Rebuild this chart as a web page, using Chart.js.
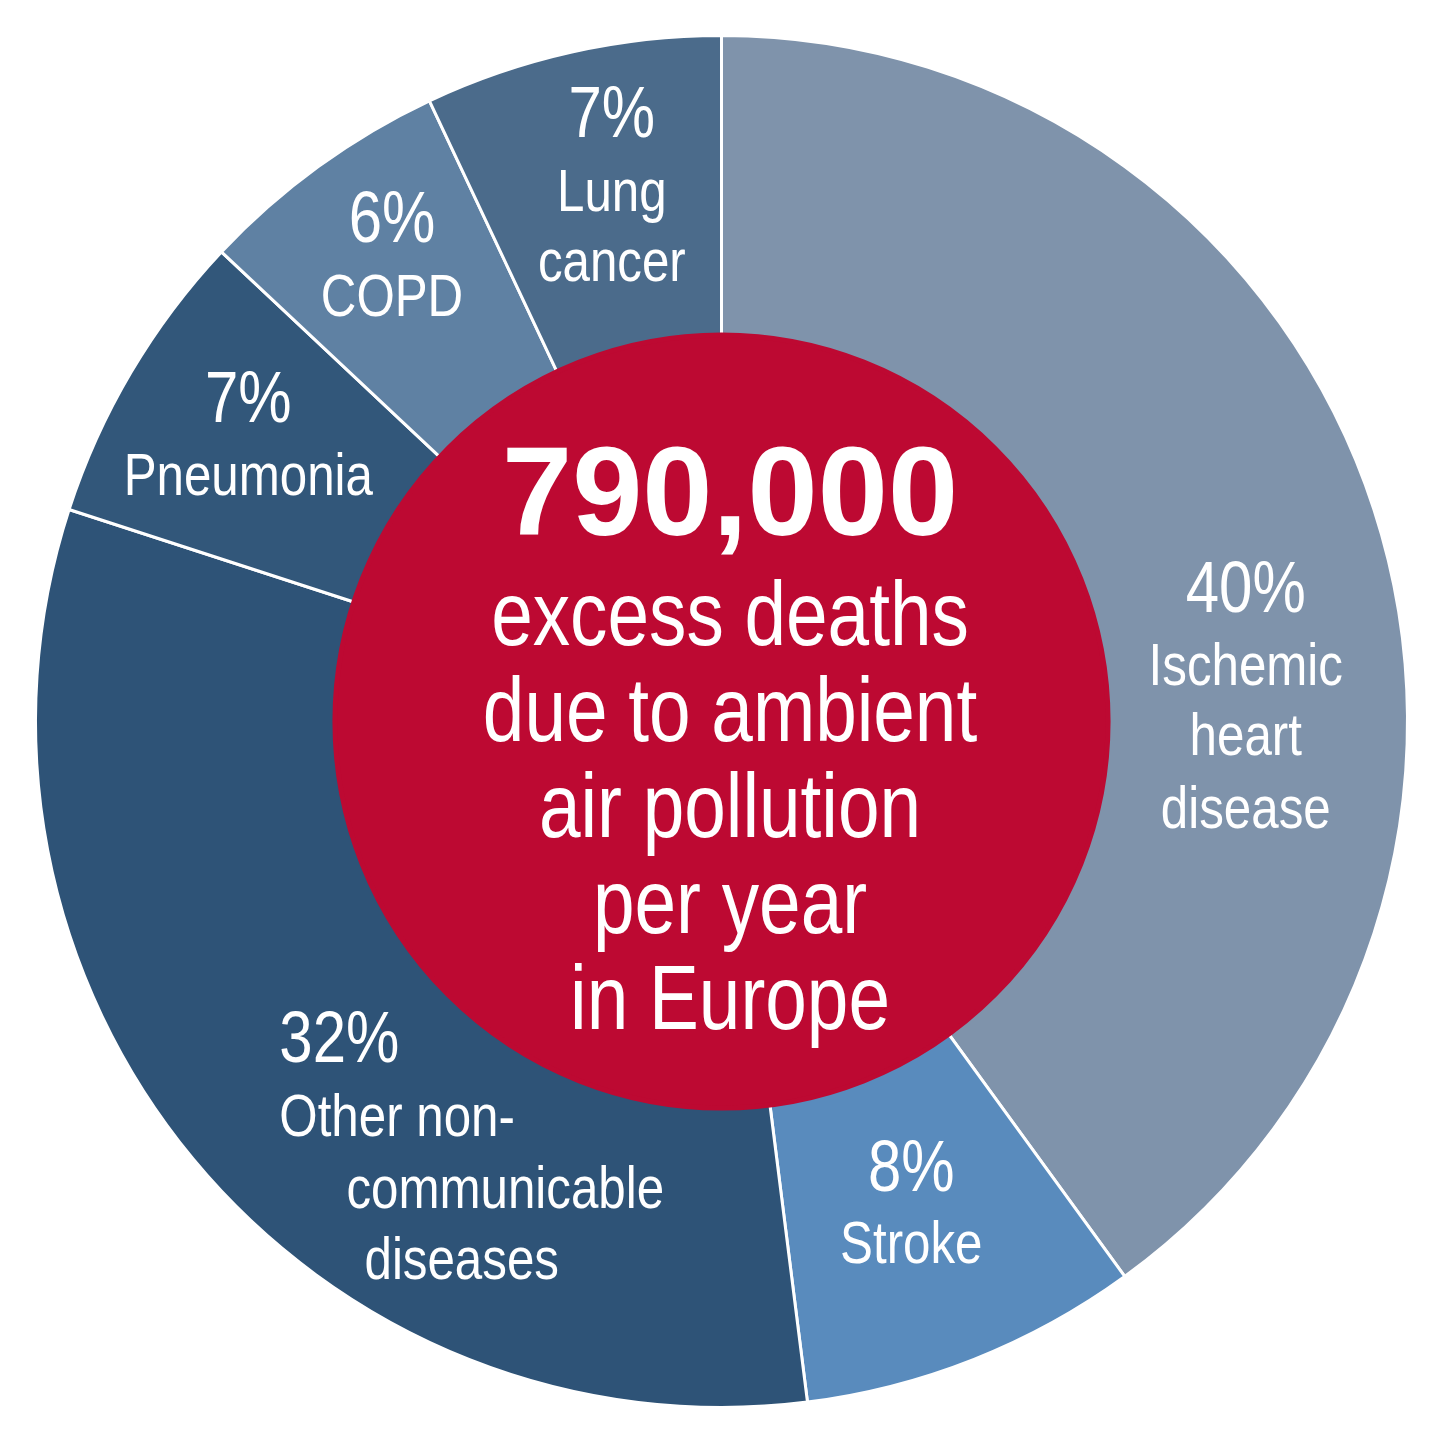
<!DOCTYPE html>
<html><head><meta charset="utf-8">
<script src="https://cdn.jsdelivr.net/npm/chart.js@4.4.1/dist/chart.umd.min.js"></script>
<style>html,body{margin:0;padding:0;background:#fff;overflow:hidden}#wrap{width:1440px;height:1449px;position:relative}</style>
</head><body><div id="wrap"><canvas id="c"></canvas></div>
<script>
// ---- data ----
const categories = ['Ischemic heart disease', 'Stroke', 'Other non-communicable diseases', 'Pneumonia', 'COPD', 'Lung cancer'];
const shares = [40, 8, 32, 7, 6, 7];
const labelLines = [['Ischemic', 'heart', 'disease'], ['Stroke'], ['Other non-', 'communicable', 'diseases'], ['Pneumonia'], ['COPD'], ['Lung', 'cancer']];
const centerTotal = '790,000';
const centerLines = ['excess deaths', 'due to ambient', 'air pollution', 'per year', 'in Europe'];

// ---- styles ----
const sliceColors = ['#7f93ab', '#598bbd', '#2e5377', '#32577a', '#5f81a3', '#4b6b8b'];
const centerColor = '#bd0932';
const REF_R = 685;          // reference outer radius used for the layout units below
const RING_WEIGHT = 299;    // outer ring width
const CORE_WEIGHT = 386;    // red core radius
// label layout, in px relative to chart centre at REF_R
const labelLayout = [
  {align: 'center', xs: [523.5], ys: [-109.5, -36.5, 33.5, 106.5]},
  {align: 'center', xs: [189.5], ys: [468.5, 540.5]},
  {align: 'left', xs: [-441.5, -441.5, -374.5, -356.5], ys: [340.5, 413.5, 485.5, 556.5]},
  {align: 'center', xs: [-472.5], ys: [-299.5, -226.5]},
  {align: 'center', xs: [-329], ys: [-478.5, -404.5]},
  {align: 'center', xs: [-109.5], ys: [-583.5, -509.5, -439.5]}
];
const centerLayout = {dx: 8.5, totalY: -186.5, firstY: -76.5, gap: 96};
const NARROW = 0.82;

function narrowText(ctx, text, x, y, size, align, bold, sx) {
  ctx.save();
  ctx.font = (bold ? 'bold ' : '') + size + 'px "Liberation Sans", Arial, sans-serif';
  ctx.textAlign = align;
  ctx.textBaseline = 'alphabetic';
  ctx.fillStyle = '#ffffff';
  ctx.translate(x, y);
  ctx.scale(sx, 1);
  ctx.fillText(text, 0, 0);
  ctx.restore();
}

const labelPlugin = {
  id: 'labels',
  afterDatasetsDraw(chart) {
    const ctx = chart.ctx;
    const arcs = chart.getDatasetMeta(0).data;
    if (!arcs.length) return;
    const cx = arcs[0].x, cy = arcs[0].y;
    const k = arcs[0].outerRadius / REF_R;
    arcs.forEach((arc, i) => {
      const lay = labelLayout[i];
      const lines = [shares[i] + '%'].concat(labelLines[i]);
      lines.forEach((t, j) => {
        const xo = lay.xs[Math.min(j, lay.xs.length - 1)];
        const size = j === 0 ? 73 : 60;
        narrowText(ctx, t, cx + xo * k, cy + lay.ys[j] * k, size * k, lay.align, false, NARROW);
      });
    });
    // centre text
    narrowText(ctx, centerTotal, cx + centerLayout.dx * k, cy + centerLayout.totalY * k, 126 * k, 'center', true, 1.0);
    centerLines.forEach((t, j) => {
      narrowText(ctx, t, cx + centerLayout.dx * k, cy + (centerLayout.firstY + j * centerLayout.gap) * k, 91 * k, 'center', false, NARROW);
    });
  }
};

new Chart(document.getElementById('c'), {
  type: 'doughnut',
  data: {
    labels: categories,
    datasets: [
      {data: shares, backgroundColor: sliceColors, borderColor: '#ffffff', borderWidth: 3, weight: RING_WEIGHT, order: 1},
      {data: [shares.reduce((a, b) => a + b, 0)], backgroundColor: [centerColor], borderColor: centerColor, borderWidth: 5, weight: CORE_WEIGHT, order: 0}
    ]
  },
  options: {
    responsive: true,
    maintainAspectRatio: false,
    animation: false,
    events: [],
    cutout: 0,
    layout: {padding: {left: 34, right: 31, top: 34, bottom: 40}},
    plugins: {legend: {display: false}, tooltip: {enabled: false}}
  },
  plugins: [labelPlugin]
});
</script></body></html>
